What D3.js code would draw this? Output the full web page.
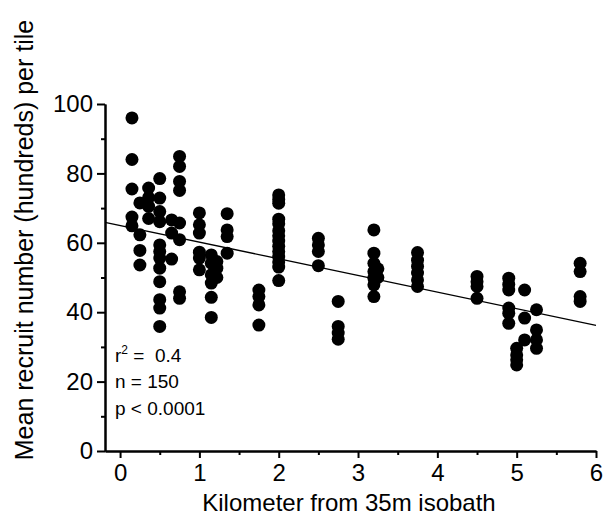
<!DOCTYPE html>
<html>
<head>
<meta charset="utf-8">
<script src="https://cdn.jsdelivr.net/npm/d3@7"></script>
<style>
  body { margin: 0; background: #fff; }
  text { font-family: "Liberation Sans", Arial, sans-serif; fill: #000; }
</style>
</head>
<body>
<div id="chart"></div>
<script>
// sampling sites (km from the 35 m isobath) and the tile means read at each site
const siteKm = [0.15, 0.25, 0.36, 0.5, 0.65, 0.75, 1.0, 1.15, 1.22, 1.35, 1.75,
  2.0, 2.5, 2.75, 3.2, 3.25, 3.75, 4.5, 4.9, 5.0, 5.1, 5.25, 5.8];
const recruitsBySite = [
  [96, 84, 75.5, 67.4, 64.9],
  [71.5, 62.3, 57.8, 53.6],
  [75.8, 73, 70.5, 67],
  [78.5, 72.9, 69, 66.1, 59.4, 57.5, 55.6, 52.7, 48.8, 43.6, 41.2, 35.9],
  [66.6, 62.8, 55.3],
  [84.9, 82, 77.7, 75.1, 65.7, 60.9, 45.9, 44],
  [68.6, 65.2, 62.8, 57.3, 55.6, 52.2],
  [56.5, 54.1, 50.8, 48.4, 44.3, 38.5],
  [54.6, 52.7, 50],
  [68.4, 63.7, 61.8, 57],
  [46.4, 44.5, 42.1, 36.3],
  [73.8, 72.5, 71.4, 66.8, 65.5, 63.5, 62, 60.5, 59, 57.5, 56, 54.5, 53, 49.1],
  [61.3, 59.4, 57.5, 53.4],
  [43.1, 35.9, 34, 32.2],
  [63.7, 57, 54.1, 51.7, 49.8, 47.9, 44.5],
  [52.5, 50],
  [57.2, 55, 53.2, 51.3, 49.3, 47.4],
  [50.3, 48.8, 47.4, 44],
  [49.8, 48, 46.4, 41.2, 39.7, 36.8],
  [29.6, 27.7, 26.3, 24.8],
  [46.4, 38.3, 32],
  [40.7, 34.9, 32, 29.6],
  [54.1, 51.7, 44.5, 43.1]
];
// fitted line y = a + b x
const fitIntercept = 65.0;
const fitSlope = -4.8;
const xTicks = [0, 1, 2, 3, 4, 5, 6];
const xMinorTicks = [0.5, 1.5, 2.5, 3.5, 4.5, 5.5];
const yTicks = [0, 20, 40, 60, 80, 100];
const yMinorTicks = [10, 30, 50, 70, 90];
const statLines = ["n = 150", "p < 0.0001"];

const width = 605, height = 522;
const svg = d3.select("#chart").append("svg")
  .attr("width", width)
  .attr("height", height);

const x = d3.scaleLinear().domain([-0.19, 6]).range([105, 596]);
const y = d3.scaleLinear().domain([0, 100]).range([451, 104]);

const points = siteKm.flatMap((km, i) => recruitsBySite[i].map(v => ({ km, v })));

// regression line
svg.append("line")
  .attr("x1", x(-0.19)).attr("y1", y(fitIntercept + fitSlope * -0.19))
  .attr("x2", x(6)).attr("y2", y(fitIntercept + fitSlope * 6))
  .attr("stroke", "#000").attr("stroke-width", 1.3);

svg.append("g").selectAll("circle")
  .data(points)
  .join("circle")
    .attr("cx", d => x(d.km))
    .attr("cy", d => y(d.v))
    .attr("r", 6.5)
    .attr("fill", "#000");

// axes: minor ticks first, then the major ones with labels
function styleAxis(g) {
  g.selectAll("path, line").attr("stroke", "#000").attr("stroke-width", 2);
  g.selectAll("text").style("font-size", "24px").attr("fill", "#000");
}

svg.append("g")
  .attr("transform", `translate(0,${y(0)})`)
  .call(d3.axisBottom(x).tickValues(xMinorTicks).tickSize(4).tickSizeOuter(0).tickFormat(""))
  .call(styleAxis);
svg.append("g")
  .attr("transform", `translate(0,${y(0)})`)
  .call(d3.axisBottom(x).tickValues(xTicks).tickSize(7).tickSizeOuter(0).tickPadding(6).tickFormat(d3.format("d")))
  .call(styleAxis);

svg.append("g")
  .attr("transform", `translate(${x(-0.19)},0)`)
  .call(d3.axisLeft(y).tickValues(yMinorTicks).tickSize(4).tickSizeOuter(0).tickFormat(""))
  .call(styleAxis);
svg.append("g")
  .attr("transform", `translate(${x(-0.19)},0)`)
  .call(d3.axisLeft(y).tickValues(yTicks).tickSize(8).tickSizeOuter(0).tickPadding(4).tickFormat(d3.format("d")))
  .call(styleAxis);

// axis titles
svg.append("text")
  .attr("x", 349).attr("y", 511)
  .attr("text-anchor", "middle")
  .style("font-size", "24px")
  .text("Kilometer from 35m isobath");

svg.append("text")
  .attr("transform", "translate(33,240) rotate(-90)")
  .attr("text-anchor", "middle")
  .style("font-size", "25px")
  .text("Mean recruit number (hundreds) per tile");

// fit statistics
const stats = svg.append("g").style("font-size", "19px");
const r2 = stats.append("text").attr("x", 115).attr("y", 362);
r2.append("tspan").text("r");
r2.append("tspan").attr("dy", -8).style("font-size", "12px").text("2");
r2.append("tspan").attr("dy", 8).attr("xml:space", "preserve").text(" =  0.4");
stats.selectAll(".stat")
  .data(statLines)
  .join("text")
    .attr("class", "stat")
    .attr("x", 115)
    .attr("y", (d, i) => 388 + i * 27)
    .text(d => d);
</script>
</body>
</html>
